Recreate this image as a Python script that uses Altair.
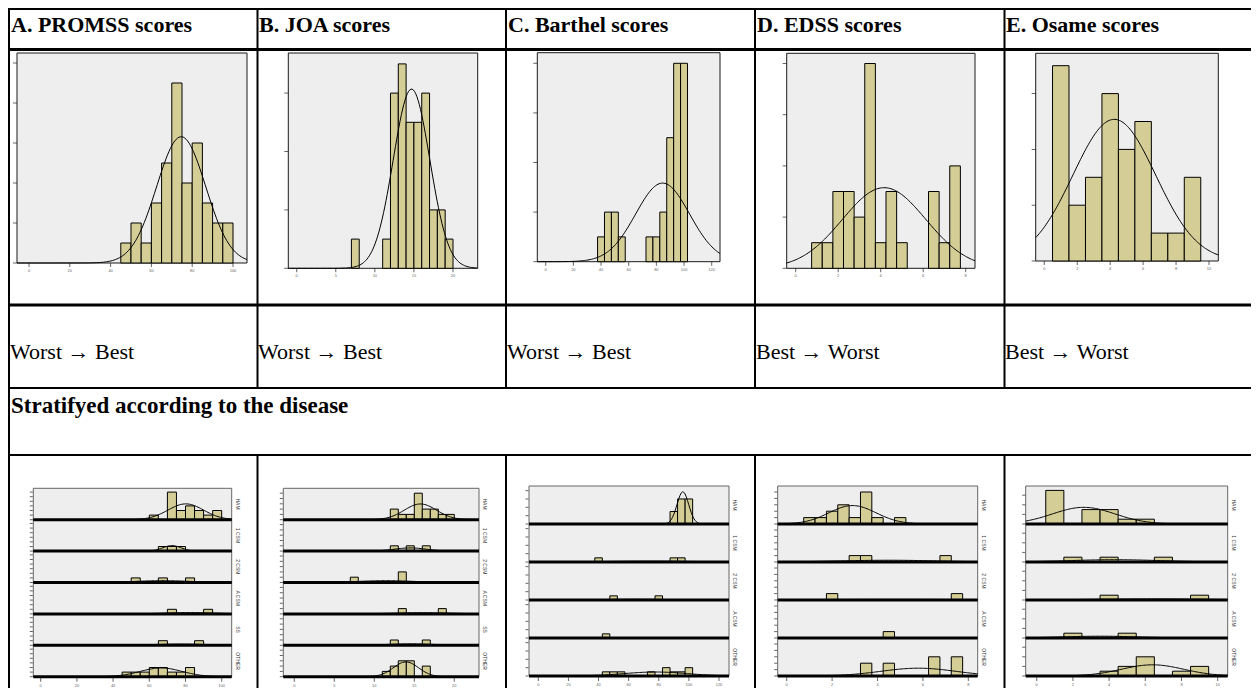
import math
import numpy as np
import pandas as pd
import altair as alt

# ---------------- data ----------------
PANEL_TITLES = ["A. PROMSS scores", "B. JOA scores", "C. Barthel scores", "D. EDSS scores", "E. Osame scores"]
DIRECTIONS = ["Worst \u2192 Best", "Worst \u2192 Best", "Worst \u2192 Best", "Best \u2192 Worst", "Best \u2192 Worst"]
STRATA_TITLE = "Stratifyed according to the disease"

# top-row histograms: bin centres, counts, bin width
PROMSS_CENTRES = [47.5, 52.5, 57.5, 62.5, 67.5, 72.5, 77.5, 82.5, 87.5, 92.5, 97.5]
PROMSS_COUNTS = [1, 2, 1, 3, 5, 9, 4, 6, 3, 2, 2]
PROMSS_WIDTH = 5
JOA_CENTRES = [7.5, 11.5, 12.5, 13.5, 14.5, 15.5, 16.5, 17.5, 18.5, 19.5]
JOA_COUNTS = [1, 1, 6, 7, 5, 5, 6, 2, 2, 1]
JOA_WIDTH = 1
BARTHEL_CENTRES = [40, 45, 50, 55, 75, 80, 85, 90, 95, 100]
BARTHEL_COUNTS = [1, 2, 2, 1, 1, 1, 2, 5, 8, 8]
BARTHEL_WIDTH = 5
EDSS_CENTRES = [1.0, 1.5, 2.0, 2.5, 3.0, 3.5, 4.0, 4.5, 5.0, 6.5, 7.0, 7.5]
EDSS_COUNTS = [1, 1, 3, 3, 2, 8, 1, 3, 1, 3, 1, 4]
EDSS_WIDTH = 0.5
OSAME_CENTRES = [1, 2, 3, 4, 5, 6, 7, 8, 9]
OSAME_COUNTS = [7, 2, 3, 6, 4, 5, 1, 1, 3]
OSAME_WIDTH = 1

# axis tick values
PROMSS_XTICKS = [0, 20, 40, 60, 80, 100]
JOA_XTICKS = [0, 5, 10, 15, 20]
BARTHEL_XTICKS = [0, 20, 40, 60, 80, 100, 120]
EDSS_XTICKS = [0, 2, 4, 6, 8]
OSAME_XTICKS = [0, 2, 4, 6, 8, 10]
PROMSS_YTICKS = [0, 2, 4, 6, 8, 10]
JOA_YTICKS = [0, 2, 4, 6]
BARTHEL_YTICKS = [0, 2, 4, 6, 8]
EDSS_YTICKS = [0, 2, 4, 6, 8]
OSAME_YTICKS = [0, 2, 4, 6]

# stratified histograms: one (centres, counts) pair per disease group, top to bottom
PROMSS_GROUPS = [
    ([62.5, 72.5, 77.5, 82.5, 87.5, 92.5, 97.5], [1, 6, 2, 3, 2, 1, 2]),
    ([67.5, 72.5, 77.5], [1, 1, 1]),
    ([52.5, 67.5, 82.5], [1, 1, 1]),
    ([72.5, 92.5], [1, 1]),
    ([67.5, 87.5], [1, 1]),
    ([47.5, 52.5, 57.5, 62.5, 67.5, 72.5, 77.5, 82.5], [1, 1, 1, 2, 2, 1, 1, 2]),
]
JOA_GROUPS = [
    ([12.5, 13.5, 14.5, 15.5, 16.5, 17.5, 18.5, 19.5], [2, 1, 1, 5, 2, 2, 1, 1]),
    ([12.5, 14.5, 16.5], [1, 1, 1]),
    ([7.5, 13.5], [1, 2]),
    ([13.5, 18.5], [1, 1]),
    ([12.5, 16.5], [1, 1]),
    ([11.5, 12.5, 13.5, 14.5, 16.5], [1, 2, 3, 3, 2]),
]
BARTHEL_GROUPS = [
    ([90, 95, 100], [3, 6, 6]),
    ([40, 90, 95], [1, 1, 1]),
    ([50, 80], [1, 1]),
    ([45], [1]),
    ([45, 50, 55, 75, 85, 90, 95, 100], [1, 1, 1, 1, 2, 1, 1, 2]),
]
EDSS_GROUPS = [
    ([1.0, 1.5, 2.0, 2.5, 3.0, 3.5, 4.0, 5.0], [1, 1, 2, 3, 1, 5, 1, 1]),
    ([3.0, 3.5, 7.0], [1, 1, 1]),
    ([2.0, 7.5], [1, 1]),
    ([4.5], [1]),
    ([3.5, 4.5, 6.5, 7.5], [2, 2, 3, 3]),
]
OSAME_GROUPS = [
    ([1, 3, 4, 5, 6], [7, 3, 3, 1, 1]),
    ([2, 4, 7], [1, 1, 1]),
    ([4, 9], [1, 1]),
    ([2, 5], [1, 1]),
    ([4, 5, 6, 8, 9], [1, 2, 4, 1, 2]),
]
GROUP_LABELS_6 = ["HAM", "1 CSM", "2 CSM", "A CSM", "SS", "OTHER"]
GROUP_LABELS_5 = ["HAM", "1 CSM", "2 CSM", "A CSM", "OTHER"]

# ---------------- styling / layout ----------------
OFF = 8
KHAKI = "#d4ce96"
PLOT_BG = "#eeeeee"
W, H = 1243, 680


def lin(l, r, ticks, p0, p1):
    a = (p1 - p0) / (ticks[-1] - ticks[0])
    return ticks[0] + (l - p0) / a, ticks[0] + (r - p0) / a


def normal_curve(centres, counts, width, x0, x1, base=0.0, npts=160):
    n = sum(counts)
    if n < 2:
        return [], []
    mean = sum(c * k for c, k in zip(centres, counts)) / n
    var = sum(k * (c - mean) ** 2 for c, k in zip(centres, counts)) / (n - 1)
    if var <= 0:
        return [], []
    sd = math.sqrt(var)
    xs = np.linspace(x0, x1, npts)
    ys = base + n * width * np.exp(-0.5 * ((xs - mean) / sd) ** 2) / (sd * math.sqrt(2 * math.pi))
    return list(xs), list(ys)


def top_panel(centres, counts, width, xticks, yticks, box, p0, p1, k):
    l, r, t, b = box
    dmin, dmax = lin(l, r, xticks, p0, p1)
    ymax = (b - t) / k
    xs = alt.Scale(domain=[dmin, dmax], range=[l - OFF, r - OFF], nice=False, zero=False)
    ys = alt.Scale(domain=[0, ymax], range=[b - OFF, t - OFF], nice=False, zero=False)

    def X(f):
        return alt.X(f, scale=xs, axis=None)

    def Y(f):
        return alt.Y(f, scale=ys, axis=None)

    frame = alt.Chart(pd.DataFrame({"x0": [dmin], "x1": [dmax], "y0": [0.0], "y1": [ymax]})).mark_rect(
        fill=PLOT_BG, stroke="#1a1a1a", strokeWidth=1
    ).encode(x=X("x0:Q"), x2="x1", y=Y("y0:Q"), y2="y1")
    bars = alt.Chart(pd.DataFrame({
        "lo": [c - width / 2 for c in centres], "hi": [c + width / 2 for c in centres],
        "n": counts, "base": [0.0] * len(counts)})).mark_rect(
        fill=KHAKI, stroke="black", strokeWidth=1
    ).encode(x=X("lo:Q"), x2="hi", y=Y("n:Q"), y2="base")
    cx, cy = normal_curve(centres, counts, width, dmin, dmax)
    curve = alt.Chart(pd.DataFrame({"x": cx, "y": cy})).mark_line(color="black", strokeWidth=1).encode(
        x=X("x:Q"), y=Y("y:Q"))
    xt = pd.DataFrame({"v": xticks, "z": [0.0] * len(xticks), "lab": [str(v) for v in xticks]})
    xtick = alt.Chart(xt).mark_tick(orient="vertical", size=4, thickness=1, color="#222", yOffset=2).encode(
        x=X("v:Q"), y=Y("z:Q"))
    xlab = alt.Chart(xt).mark_text(fontSize=4, dy=8, color="#666", font="Liberation Sans").encode(
        x=X("v:Q"), y=Y("z:Q"), text="lab:N")
    yt = pd.DataFrame({"v": yticks, "x0": [dmin] * len(yticks)})
    ytick = alt.Chart(yt).mark_tick(orient="horizontal", size=4, thickness=1, color="#222", xOffset=-2).encode(
        x=X("x0:Q"), y=Y("v:Q"))
    return alt.layer(frame, bars, curve, xtick, xlab, ytick)


def bottom_panel(groups, width, xticks, labels, box, p0, p1, k, ystep):
    l, r, t, b = box
    nsub = len(groups)
    dmin, dmax = lin(l, r, xticks, p0, p1)
    slot = (b - t) / nsub / k
    xs = alt.Scale(domain=[dmin, dmax], range=[l - OFF, r - OFF], nice=False, zero=False)
    ys = alt.Scale(domain=[0, slot * nsub], range=[b - OFF, t - OFF], nice=False, zero=False)

    def X(f):
        return alt.X(f, scale=xs, axis=None)

    def Y(f):
        return alt.Y(f, scale=ys, axis=None)

    fr, br, cr, yr, lr = [], [], [], [], []
    for i, (cen, cnt) in enumerate(groups):
        base = (nsub - 1 - i) * slot
        fr.append({"x0": dmin, "x1": dmax, "y0": base, "y1": base + slot})
        for c, n in zip(cen, cnt):
            br.append({"lo": c - width / 2, "hi": c + width / 2, "top": base + n, "base": base})
        cx, cy = normal_curve(cen, cnt, width, dmin, dmax, base=base)
        for x_, y_ in zip(cx, cy):
            cr.append({"x": x_, "y": y_, "g": i})
        j = 0.0
        while j <= slot - 0.25:
            yr.append({"x0": dmin, "v": base + j})
            j += ystep
        lr.append({"x": dmax, "y": base + slot / 2, "lab": labels[i]})
    frames = alt.Chart(pd.DataFrame(fr)).mark_rect(fill=PLOT_BG, stroke="#666", strokeWidth=1).encode(
        x=X("x0:Q"), x2="x1", y=Y("y0:Q"), y2="y1")
    baselines = alt.Chart(pd.DataFrame(fr)).mark_rule(color="black", strokeWidth=3).encode(
        x=X("x0:Q"), x2="x1", y=Y("y0:Q"))
    bars = alt.Chart(pd.DataFrame(br)).mark_rect(fill=KHAKI, stroke="black", strokeWidth=1).encode(
        x=X("lo:Q"), x2="hi", y=Y("top:Q"), y2="base")
    curves = alt.Chart(pd.DataFrame(cr)).mark_line(color="black", strokeWidth=1).encode(
        x=X("x:Q"), y=Y("y:Q"), detail="g:N")
    xt = pd.DataFrame({"v": xticks, "z": [0.0] * len(xticks), "lab": [str(v) for v in xticks]})
    xtick = alt.Chart(xt).mark_tick(orient="vertical", size=4, thickness=1, color="#222", yOffset=3).encode(
        x=X("v:Q"), y=Y("z:Q"))
    xlab = alt.Chart(xt).mark_text(fontSize=4, dy=9, color="#666", font="Liberation Sans").encode(
        x=X("v:Q"), y=Y("z:Q"), text="lab:N")
    ytick = alt.Chart(pd.DataFrame(yr)).mark_tick(orient="horizontal", size=3, thickness=1, color="#222",
                                                  xOffset=-2).encode(x=X("x0:Q"), y=Y("v:Q"))
    lab = alt.Chart(pd.DataFrame(lr)).mark_text(angle=90, fontSize=5, dy=-6, color="#333",
                                                font="Liberation Sans").encode(
        x=X("x:Q"), y=Y("y:Q"), text="lab:N")
    return alt.layer(frames, bars, curves, baselines, xtick, xlab, ytick, lab)


layers = []

# ---- table grid (decoration, pixel positions) ----
COLS = [9, 257.5, 506, 755, 1004.5, 1252.5]
grid = []
for y, w in [(9, 2), (49.5, 3), (305, 3), (388, 2), (455, 2)]:
    grid.append({"x": 8, "x2": 1254, "y": y, "y2": y, "w": w})
grid.append({"x": COLS[0], "x2": COLS[0], "y": 8, "y2": 700, "w": 2})
for cx in COLS[1:]:
    grid.append({"x": cx, "x2": cx, "y": 8, "y2": 388, "w": 2})
    grid.append({"x": cx, "x2": cx, "y": 455, "y2": 700, "w": 2})
gdf = pd.DataFrame(grid)
for c in ["x", "x2", "y", "y2"]:
    gdf[c] = gdf[c] - OFF
layers.append(alt.Chart(gdf).mark_rule(color="black").encode(
    x=alt.X("x:Q", scale=None, axis=None), x2="x2",
    y=alt.Y("y:Q", scale=None, axis=None), y2="y2",
    strokeWidth=alt.StrokeWidth("w:Q", scale=None, legend=None)))

# ---- texts ----
TITLE_X = [11, 259, 508, 757, 1006]
tdf = pd.DataFrame({"x": [v - OFF for v in TITLE_X], "y": [31.5 - OFF] * 5, "t": PANEL_TITLES})
layers.append(alt.Chart(tdf).mark_text(align="left", baseline="alphabetic", font="Liberation Serif",
                                       fontSize=22, fontWeight="bold", color="black").encode(
    x=alt.X("x:Q", scale=None, axis=None), y=alt.Y("y:Q", scale=None, axis=None), text="t:N"))
ddf = pd.DataFrame({"x": [v - 1 - OFF for v in TITLE_X], "y": [359 - OFF] * 5, "t": DIRECTIONS})
layers.append(alt.Chart(ddf).mark_text(align="left", baseline="alphabetic", font="Liberation Serif",
                                       fontSize=22, color="black").encode(
    x=alt.X("x:Q", scale=None, axis=None), y=alt.Y("y:Q", scale=None, axis=None), text="t:N"))
sdf = pd.DataFrame({"x": [11 - OFF], "y": [413 - OFF], "t": [STRATA_TITLE]})
layers.append(alt.Chart(sdf).mark_text(align="left", baseline="alphabetic", font="Liberation Serif",
                                       fontSize=23, fontWeight="bold", color="black").encode(
    x=alt.X("x:Q", scale=None, axis=None), y=alt.Y("y:Q", scale=None, axis=None), text="t:N"))

# ---- top-row histograms ----
layers.append(top_panel(PROMSS_CENTRES, PROMSS_COUNTS, PROMSS_WIDTH, PROMSS_XTICKS, PROMSS_YTICKS,
                        (17, 247, 53, 263), 29, 233, 20.0))
layers.append(top_panel(JOA_CENTRES, JOA_COUNTS, JOA_WIDTH, JOA_XTICKS, JOA_YTICKS,
                        (288.3, 477.7, 53, 268.3), 296.7, 453, 29.2))
layers.append(top_panel(BARTHEL_CENTRES, BARTHEL_COUNTS, BARTHEL_WIDTH, BARTHEL_XTICKS, BARTHEL_YTICKS,
                        (537.3, 720, 52.7, 261.7), 545.7, 711.7, 24.8))
layers.append(top_panel(EDSS_CENTRES, EDSS_COUNTS, EDSS_WIDTH, EDSS_XTICKS, EDSS_YTICKS,
                        (786.7, 975, 53.3, 268.3), 795.7, 965.7, 25.6))
layers.append(top_panel(OSAME_CENTRES, OSAME_COUNTS, OSAME_WIDTH, OSAME_XTICKS, OSAME_YTICKS,
                        (1035.7, 1218.3, 53.3, 261), 1044.3, 1209, 27.9))

# ---- stratified histograms ----
layers.append(bottom_panel(PROMSS_GROUPS, PROMSS_WIDTH, PROMSS_XTICKS, GROUP_LABELS_6,
                           (33.3, 231.7, 488.3, 676.7), 40.7, 221.7, 4.6, 1))
layers.append(bottom_panel(JOA_GROUPS, JOA_WIDTH, JOA_XTICKS, GROUP_LABELS_6,
                           (283.3, 479, 488.3, 676.7), 294.3, 454.3, 5.3, 1))
layers.append(bottom_panel(BARTHEL_GROUPS, BARTHEL_WIDTH, BARTHEL_XTICKS, GROUP_LABELS_5,
                           (529, 729, 486, 676), 538.3, 719, 4.17, 2))
layers.append(bottom_panel(EDSS_GROUPS, EDSS_WIDTH, EDSS_XTICKS, GROUP_LABELS_5,
                           (777.7, 977.7, 486, 676), 786.7, 968.3, 6.4, 1))
layers.append(bottom_panel(OSAME_GROUPS, OSAME_WIDTH, OSAME_XTICKS, GROUP_LABELS_5,
                           (1025.7, 1227.7, 486, 676), 1036.7, 1217.7, 4.8, 2))

chart = alt.layer(*layers).resolve_scale(x="independent", y="independent").properties(
    width=W, height=H, padding=0, autosize=alt.AutoSizeParams(type="none"),
    background="white",
).configure_view(stroke=None)

chart.save("out.html", embed_options={"renderer": "svg", "actions": False})
